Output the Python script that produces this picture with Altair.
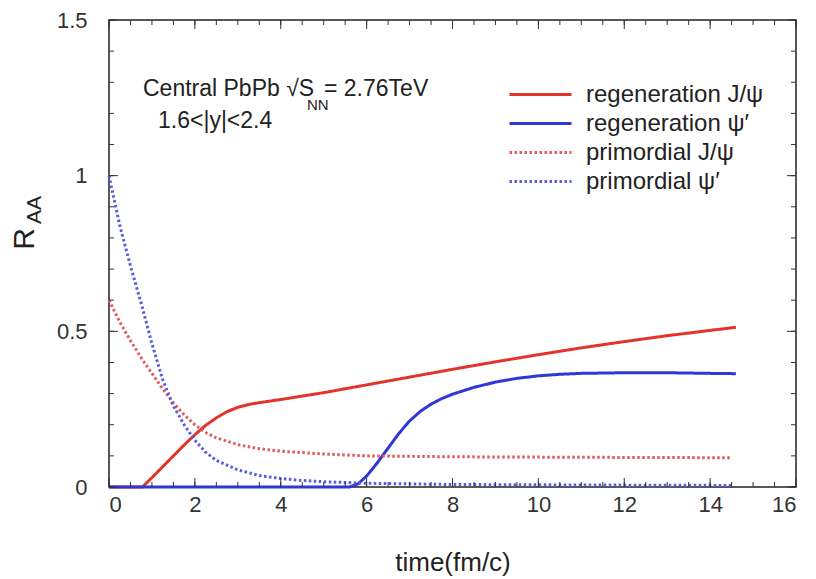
import altair as alt
import pandas as pd

# ---------------- data ----------------
series_names = ["regeneration J/ψ", "regeneration ψ′", "primordial J/ψ", "primordial ψ′"]
series_colors = ["#e3342b", "#2f37d6", "#e25a5a", "#5b5be0"]
series_dashes = [[1, 0], [1, 0], [2.5, 2.5], [2.5, 2.5]]
series_widths = [3, 3, 2, 2]

regen_jpsi_t = [0, 0.78, 1.0, 1.25, 1.5, 1.75, 2.0, 2.25, 2.5, 2.75, 3.0, 3.25, 3.5, 4.0, 4.5,
                5, 6, 7, 8, 9, 10, 11, 12, 13, 14, 14.6]
regen_jpsi_v = [0, 0, 0.03, 0.065, 0.1, 0.135, 0.168, 0.198, 0.222, 0.242, 0.256, 0.265, 0.271,
                0.281, 0.292, 0.303, 0.328, 0.353, 0.378, 0.402, 0.425, 0.447, 0.467, 0.486, 0.503, 0.513]

regen_psi_t = [0, 5.6, 5.8, 6.0, 6.25, 6.5, 6.75, 7.0, 7.25, 7.5, 7.75, 8.0, 8.5, 9, 9.5, 10,
               10.5, 11, 12, 13, 14, 14.6]
regen_psi_v = [0, 0, 0.01, 0.035, 0.078, 0.125, 0.172, 0.212, 0.243, 0.266, 0.284, 0.298, 0.32,
               0.337, 0.349, 0.357, 0.362, 0.365, 0.367, 0.367, 0.365, 0.364]

prim_jpsi_t = [0, 0.25, 0.5, 0.75, 1.0, 1.25, 1.5, 1.75, 2.0, 2.25, 2.5, 3.0, 3.5, 4.0, 5, 6,
               8, 10, 12, 14.5]
prim_jpsi_v = [0.6, 0.53, 0.47, 0.415, 0.365, 0.315, 0.27, 0.232, 0.2, 0.175, 0.158, 0.136,
               0.123, 0.115, 0.106, 0.1, 0.097, 0.096, 0.095, 0.094]

prim_psi_t = [0, 0.25, 0.5, 0.75, 1.0, 1.25, 1.5, 1.75, 2.0, 2.25, 2.5, 3.0, 3.5, 4.0, 4.5, 5,
              6, 8, 10, 12, 14.5]
prim_psi_v = [1.0, 0.84, 0.71, 0.59, 0.46, 0.345, 0.26, 0.2, 0.15, 0.112, 0.085, 0.055, 0.037,
              0.027, 0.021, 0.017, 0.012, 0.008, 0.007, 0.006, 0.005]

x_tick_labels = [0, 2, 4, 6, 8, 10, 12, 14, 16]
y_tick_labels = [0, 0.5, 1, 1.5]
x_minor_ticks = [i * 0.5 for i in range(33)]
y_minor_ticks = [round(i * 0.1, 2) for i in range(16)]

# ---------------- tables ----------------
rows = []
for name, ts, vs in zip(series_names,
                        [regen_jpsi_t, regen_psi_t, prim_jpsi_t, prim_psi_t],
                        [regen_jpsi_v, regen_psi_v, prim_jpsi_v, prim_psi_v]):
    for t, v in zip(ts, vs):
        rows.append({"series": name, "t": t, "v": v})
df = pd.DataFrame(rows)

W, H = 687, 467
FONT = "Liberation Sans"
TXT = "#222222"

xscale = alt.Scale(domain=[0, 16], nice=False, zero=False)
yscale = alt.Scale(domain=[0, 1.5], nice=False, zero=False)

x_axis = alt.Axis(values=x_tick_labels, format="~g", title="time(fm/c)",
                  labelPadding=7, titlePadding=34, titleFontSize=26,
                  titleFontWeight="normal", titleFont=FONT, titleColor=TXT)
y_axis = alt.Axis(values=y_tick_labels, format="~g", title=None, labelPadding=22)

def X(field="t"):
    return alt.X(f"{field}:Q", scale=xscale, axis=x_axis, title="time(fm/c)")

def Y(field="v"):
    return alt.Y(f"{field}:Q", scale=yscale, axis=y_axis, title=None)

legend = alt.Legend(
    title=None, orient="none", legendX=399, legendY=60,
    symbolType="stroke", symbolSize=3844, symbolStrokeWidth=2.5,
    labelFont=FONT, labelFontSize=24, labelColor=TXT, labelOffset=13,
    labelLimit=400, clipHeight=29, rowPadding=0, padding=0,
)

lines = alt.Chart(df).mark_line().encode(
    x=X(),
    y=Y(),
    color=alt.Color("series:N", scale=alt.Scale(domain=series_names, range=series_colors),
                    legend=legend),
    strokeDash=alt.StrokeDash("series:N", scale=alt.Scale(domain=series_names, range=series_dashes),
                              legend=legend),
    strokeWidth=alt.StrokeWidth("series:N", scale=alt.Scale(domain=series_names, range=series_widths),
                                legend=None),
    order="t:Q",
)

# inward ticks on all four sides (gnuplot style)
def xticks(vals, length):
    d = pd.DataFrame({"t": vals})
    bottom = alt.Chart(d).mark_rule(color="#333", strokeWidth=1).encode(
        x=X(), y=alt.value(H), y2=alt.value(H - length))
    top = alt.Chart(d).mark_rule(color="#333", strokeWidth=1).encode(
        x=X(), y=alt.value(0), y2=alt.value(length))
    return [bottom, top]

def yticks(vals, length):
    d = pd.DataFrame({"v": vals})
    left = alt.Chart(d).mark_rule(color="#333", strokeWidth=1).encode(
        y=Y(), x=alt.value(0), x2=alt.value(length))
    right = alt.Chart(d).mark_rule(color="#333", strokeWidth=1).encode(
        y=Y(), x=alt.value(W), x2=alt.value(W - length))
    return [left, right]

tick_layers = xticks(x_minor_ticks, 5) + xticks(x_tick_labels, 9) + \
    yticks(y_minor_ticks, 5) + yticks(y_tick_labels, 9)

one = pd.DataFrame({"a": [0]})

def label(text, x, y, size, angle=0, align="left", baseline="alphabetic"):
    return alt.Chart(one).mark_text(
        text=text, font=FONT, fontSize=size, color=TXT, align=align,
        baseline=baseline, angle=angle,
    ).encode(x=alt.value(x), y=alt.value(y))

annotations = [
    label("Central PbPb √S", 34, 76, 23),
    label("NN", 198, 90, 15),
    label("= 2.76TeV", 215, 76, 23),
    label("1.6<|y|<2.4", 49, 108, 23),
    label("R", -84, 219, 30, angle=270, align="center", baseline="middle"),
    label("AA", -74, 190, 21, angle=270, align="center", baseline="middle"),
]

chart = alt.layer(lines, *tick_layers, *annotations).properties(
    width=W, height=H,
    autosize=alt.AutoSizeParams(type="none"),
    padding={"left": 109, "top": 20, "right": 20, "bottom": 92},
    background="white",
).configure_view(
    stroke="#222", strokeWidth=1.5
).configure_axis(
    labelFont=FONT, labelFontSize=22, labelColor="#333",
    tickSize=0, domain=False, grid=False,
)

chart.save("out.html", embed_options={"renderer": "svg", "actions": False})
